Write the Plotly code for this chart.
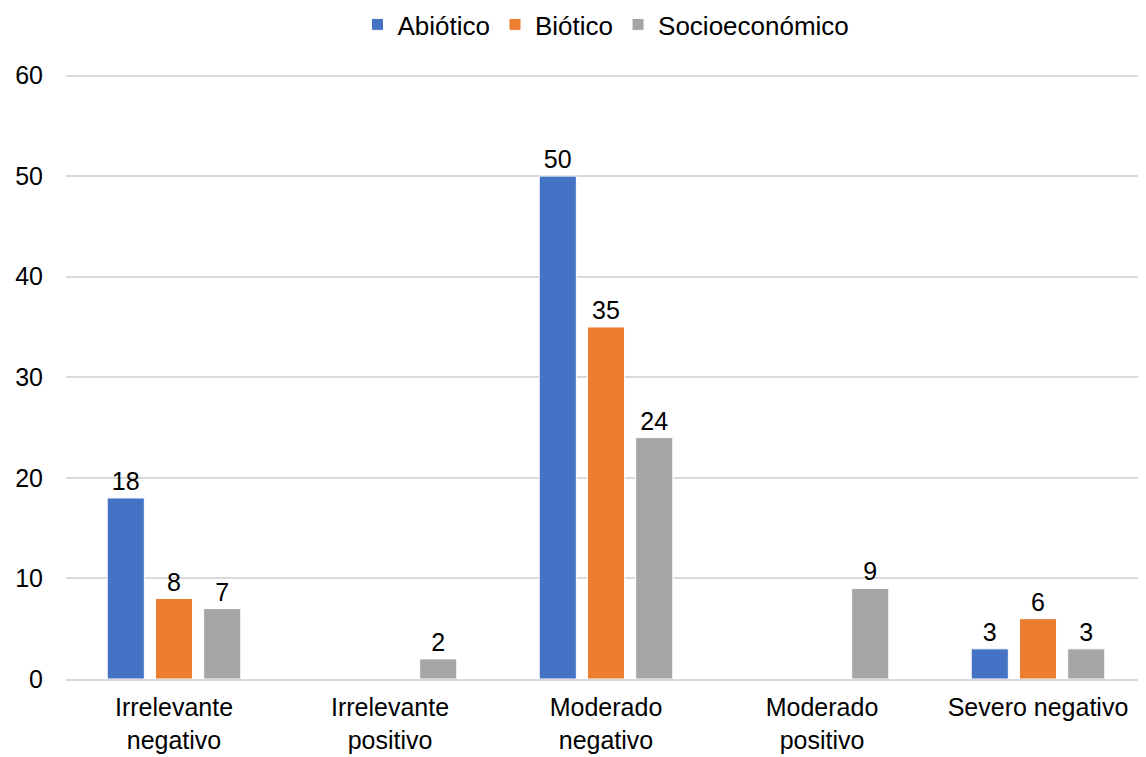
import plotly.graph_objects as go

categories = ["Irrelevante<br>negativo", "Irrelevante<br>positivo", "Moderado<br>negativo",
              "Moderado<br>positivo", "Severo negativo"]
abiotico = [18, None, 50, None, 3]
biotico = [8, None, 35, None, 6]
socioeconomico = [7, 2, 24, 9, 3]
series_names = ["Abiótico", "Biótico", "Socioeconómico"]
colors = ["#4472C4", "#ED7D31", "#A5A5A5"]
y_ticks = [0, 10, 20, 30, 40, 50, 60]

FONT = "Liberation Sans, Arial, sans-serif"
FS = 25

fig = go.Figure()
for name, vals, col in zip(series_names, [abiotico, biotico, socioeconomico], colors):
    fig.add_trace(go.Bar(
        x=categories, y=vals, name=name,
        marker=dict(color=col, line=dict(color="white", width=1)),
        text=["" if v is None else str(v) for v in vals],
        textposition="outside",
        textfont=dict(size=FS, color="#000000", family=FONT),
        cliponaxis=False,
    ))

# page body has an 8px margin, so the figure is shrunk and margins shifted by 8px
fig.update_layout(
    width=1138, height=749,
    margin=dict(l=58, r=0, t=66, b=78),
    paper_bgcolor="white", plot_bgcolor="white",
    barmode="group", bargap=0.33, bargroupgap=0.23,
    font=dict(family=FONT, size=FS, color="#000000"),
    legend=dict(orientation="h", x=0.5, xanchor="center", y=0.978, yref="container",
                yanchor="middle", font=dict(size=26), traceorder="normal",
                itemwidth=30, tracegroupgap=0),
    showlegend=True,
)
fig.update_yaxes(range=[0, 60.15], tickvals=y_ticks, showgrid=True, gridcolor="#D9D9D9",
                 gridwidth=2, zeroline=False, showline=False, ticks="",
                 ticklabelstandoff=22, tickfont=dict(size=FS))
fig.update_xaxes(showline=True, linecolor="#D9D9D9", linewidth=2, ticks="",
                 ticklabelstandoff=5, tickfont=dict(size=FS))

fig.write_html("out.html")
